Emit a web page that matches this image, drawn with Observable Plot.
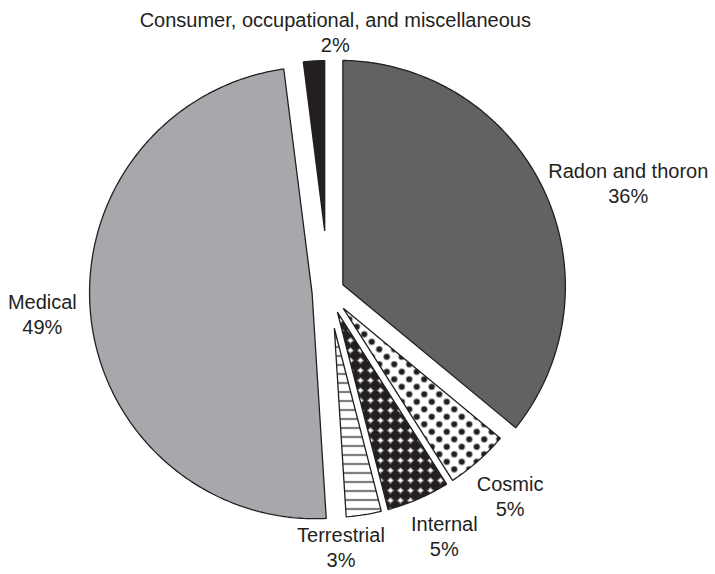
<!DOCTYPE html>
<html>
<head>
<meta charset="utf-8">
<script src="https://cdn.jsdelivr.net/npm/d3@7"></script>
<script src="https://cdn.jsdelivr.net/npm/@observablehq/plot@0.6"></script>
<style>
  html, body { margin: 0; padding: 0; background: #fff; }
  #chart svg { display: block; }
</style>
</head>
<body>
<div id="chart"></div>
<script>
// ---- data ----
const categories = ["Radon and thoron", "Cosmic", "Internal", "Terrestrial", "Medical", "Consumer, occupational, and miscellaneous"];
const shares = [36, 5, 5, 3, 49, 2];

// ---- styles / layout ----
const W = 715, H = 574;
const CX = 328, CY = 291;      // pie centre in pixels
const R = 226;                 // radius
const GAP = 3.5;               // half width of the white gap between slices
const INK = "#231f20";
const sliceFill = {
  "Radon and thoron": "#616264",
  "Cosmic": "url(#pat-cosmic)",
  "Internal": "url(#pat-internal)",
  "Terrestrial": "url(#pat-terrestrial)",
  "Medical": "#a7a8ab",
  "Consumer, occupational, and miscellaneous": INK
};
const explode = {"Radon and thoron": 12, "Medical": 13, "Consumer, occupational, and miscellaneous": 5};
// label placement: [angle in degrees clockwise from 12 o'clock, distance in px]
const labelPolar = {
  "Radon and thoron": [70, 319],
  "Cosmic": [138.3, 273],
  "Internal": [154.6, 270],
  "Terrestrial": [177.2, 255],
  "Medical": [265.6, 287],
  "Consumer, occupational, and miscellaneous": [1.5, 260]
};

// ---- geometry ----
const total = d3.sum(shares);
let acc = 0;
const slices = categories.map((name, i) => {
  const a0 = acc / total * 2 * Math.PI;
  acc += shares[i];
  const a1 = acc / total * 2 * Math.PI;
  const mid = (a0 + a1) / 2, half = (a1 - a0) / 2;
  const e = explode[name] || 0;
  const ox = e * Math.sin(mid), oy = e * Math.cos(mid);
  const apexD = GAP / Math.sin(Math.min(half, Math.PI / 2));
  const pts = [{x: ox + apexD * Math.sin(mid), y: oy + apexD * Math.cos(mid)}];
  const da = Math.asin(GAP / R);
  const s0 = a0 + da, s1 = a1 - da;
  const n = Math.max(8, Math.ceil((s1 - s0) * 80));
  for (let k = 0; k <= n; k++) {
    const a = s0 + (s1 - s0) * k / n;
    pts.push({x: ox + R * Math.sin(a), y: oy + R * Math.cos(a)});
  }
  return {name, share: shares[i], pts};
});

const labels = categories.map((name, i) => {
  const [deg, dist] = labelPolar[name];
  const t = deg * Math.PI / 180;
  return {x: dist * Math.sin(t), y: dist * Math.cos(t), text: name + "\n" + shares[i] + "%"};
});

const chart = Plot.plot({
  width: W, height: H,
  margin: 0,
  x: {domain: [-CX, W - CX], axis: null},
  y: {domain: [-(H - CY), CY], axis: null},
  style: {background: "#fff"},
  marks: [
    ...slices.map(s => Plot.line(s.pts, {
      x: "x", y: "y", curve: "linear-closed",
      fill: sliceFill[s.name], stroke: INK, strokeWidth: 1.3, strokeLinejoin: "miter"
    })),
    Plot.text(labels, {
      x: "x", y: "y", text: "text",
      fontSize: 20, lineHeight: 1.25, lineAnchor: "middle", textAnchor: "middle",
      fontFamily: "'Liberation Sans', Arial, Helvetica, sans-serif",
      fill: INK
    })
  ]
});

// pattern definitions
const defs = d3.select(chart).insert("defs", ":first-child");
const pc = defs.append("pattern").attr("id", "pat-cosmic")
  .attr("patternUnits", "userSpaceOnUse").attr("width", 15).attr("height", 15);
pc.append("rect").attr("width", 15).attr("height", 15).attr("fill", "#fff");
pc.append("circle").attr("cx", 3.75).attr("cy", 3.75).attr("r", 3.1).attr("fill", INK);
pc.append("circle").attr("cx", 11.25).attr("cy", 11.25).attr("r", 3.1).attr("fill", INK);

const pi = defs.append("pattern").attr("id", "pat-internal")
  .attr("patternUnits", "userSpaceOnUse").attr("width", 10).attr("height", 10);
pi.append("rect").attr("width", 10).attr("height", 10).attr("fill", "#fff");
pi.append("circle").attr("cx", 5).attr("cy", 5).attr("r", 5.15).attr("fill", INK);

const pt = defs.append("pattern").attr("id", "pat-terrestrial")
  .attr("patternUnits", "userSpaceOnUse").attr("width", 9).attr("height", 9);
pt.append("rect").attr("width", 9).attr("height", 9).attr("fill", "#fff");
pt.append("line").attr("x1", 0).attr("x2", 9).attr("y1", 4.5).attr("y2", 4.5)
  .attr("stroke", INK).attr("stroke-width", 1.3);

document.getElementById("chart").appendChild(chart);
</script>
</body>
</html>
